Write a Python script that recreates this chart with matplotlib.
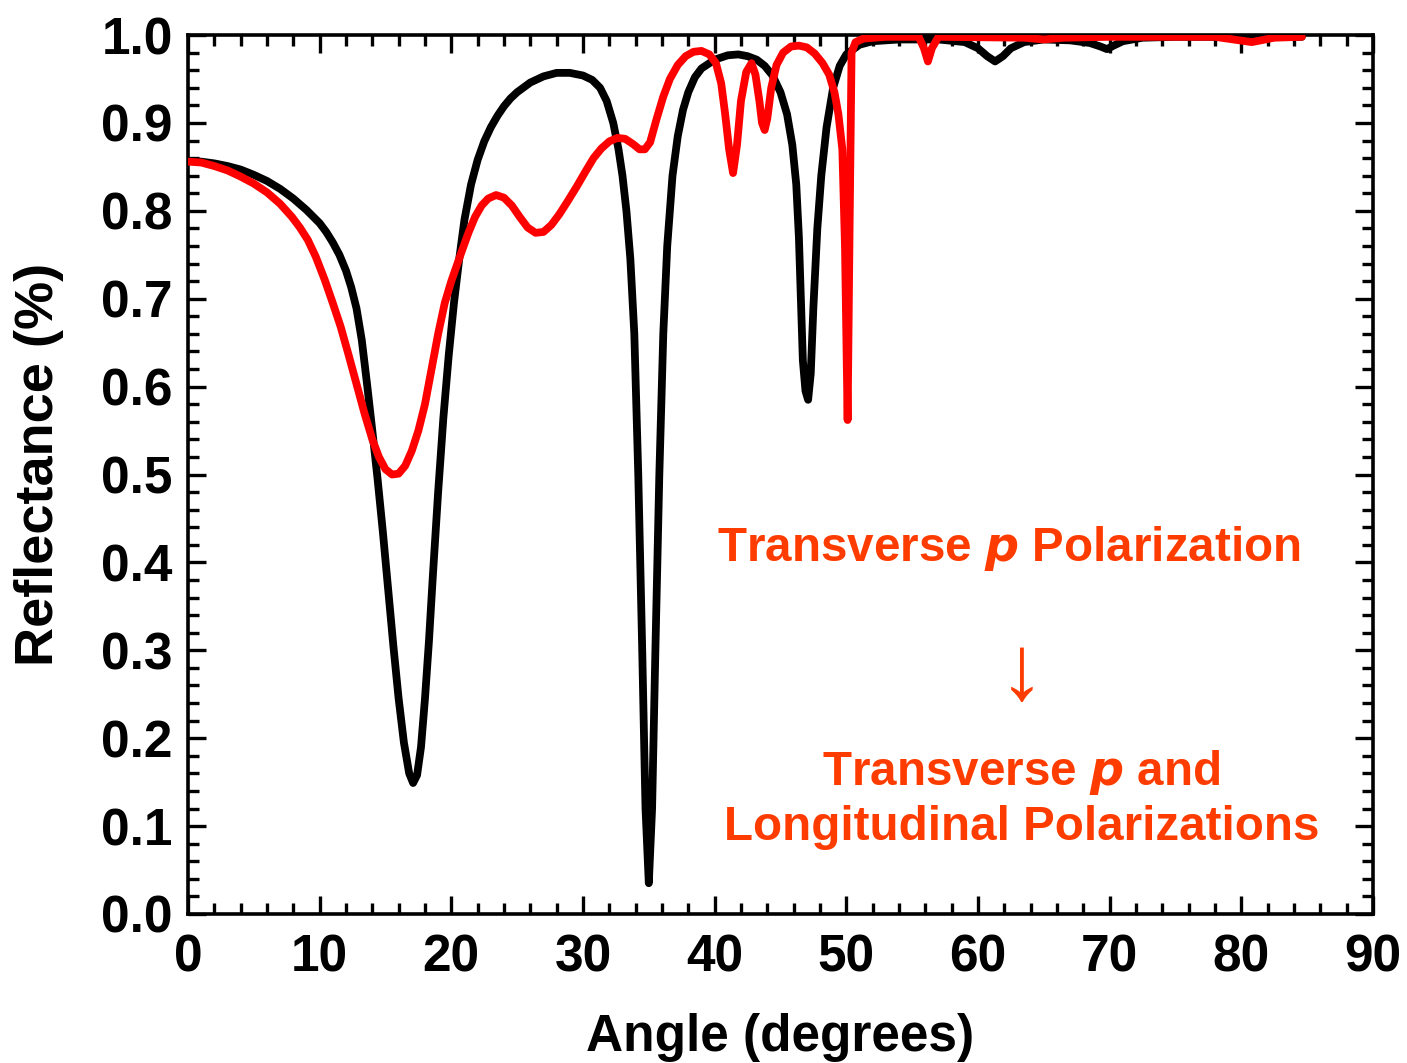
import matplotlib
matplotlib.use("Agg")
import matplotlib.pyplot as plt
from matplotlib.ticker import MultipleLocator

plt.rcParams['font.family'] = ['Liberation Sans', 'DejaVu Sans']
plt.rcParams['font.weight'] = 'bold'

# Reflectance vs. incidence angle, transverse p polarization only
angle_p = [0, 1, 2, 3, 4, 5, 6, 7, 8, 9, 10, 10.5, 11, 11.5, 12, 12.4, 12.8, 13.2,
           13.6, 14.0, 14.4, 14.8, 15.2, 15.6, 16.0, 16.4, 16.8, 17.1, 17.4, 17.7,
           18.0, 18.3, 18.6, 19.0, 19.4, 19.8, 20.2, 20.6, 21.0, 21.5, 22.0, 22.5,
           23.0, 23.5, 24.0, 24.5, 25.0, 26.0, 27.0, 28.0, 29.0, 30.0, 30.7, 31.3,
           31.8, 32.3, 32.7, 33.0, 33.3, 33.6, 33.9, 34.2, 34.5, 34.75, 35.0, 35.25,
           35.5, 35.8, 36.1, 36.4, 36.8, 37.2, 37.6, 38.0, 38.5, 39.0, 40.0, 41.0,
           41.8, 42.5, 43.2, 43.8, 44.4, 45.0, 45.5, 45.9, 46.2, 46.4, 46.55, 46.7,
           46.9, 47.1, 47.3, 47.5, 47.8, 48.1, 48.5, 49.0, 49.5, 50.0, 51.0, 52.0,
           54.0, 57.0, 59.0, 60.0, 60.7, 61.3, 61.9, 62.5, 63.5, 65.0, 67.0, 68.5,
           69.3, 69.8, 70.3, 71.0, 72.5, 75.0, 84.6]
refl_p = [0.857, 0.856, 0.854, 0.851, 0.847, 0.841, 0.834, 0.825, 0.814, 0.801,
          0.786, 0.776, 0.764, 0.750, 0.732, 0.713, 0.689, 0.653, 0.603, 0.550,
          0.495, 0.435, 0.370, 0.305, 0.245, 0.195, 0.160, 0.149, 0.158, 0.190,
          0.245, 0.310, 0.385, 0.480, 0.565, 0.635, 0.695, 0.745, 0.790, 0.830,
          0.858, 0.879, 0.895, 0.908, 0.919, 0.928, 0.935, 0.946, 0.953, 0.957,
          0.957, 0.954, 0.949, 0.940, 0.925, 0.900, 0.870, 0.840, 0.800, 0.745,
          0.660, 0.500, 0.300, 0.120, 0.035, 0.120, 0.300, 0.500, 0.660, 0.760,
          0.840, 0.885, 0.915, 0.935, 0.952, 0.962, 0.972, 0.977, 0.978, 0.976,
          0.972, 0.965, 0.954, 0.935, 0.910, 0.875, 0.830, 0.770, 0.700, 0.630,
          0.595, 0.585, 0.615, 0.690, 0.780, 0.840, 0.895, 0.940, 0.965, 0.978,
          0.989, 0.993, 0.995, 0.995, 0.992, 0.985, 0.976, 0.970, 0.976, 0.985,
          0.992, 0.995, 0.994, 0.991, 0.987, 0.984, 0.988, 0.993, 0.997, 0.998,
          0.998]

# Transverse p plus longitudinal polarizations
angle_pl = [0, 1, 2, 3, 4, 5, 6, 7, 7.9, 8.5, 9.1, 9.7, 10.4, 11.0, 11.6, 12.2,
            12.8, 13.4, 14.0, 14.5, 15.0, 15.5, 16.0, 16.5, 17.0, 17.5, 18.0, 18.5,
            19.0, 19.5, 20.0, 20.7, 21.3, 21.8, 22.3, 22.8, 23.4, 24.0, 24.6, 25.2,
            25.8, 26.4, 27.0, 27.6, 28.2, 28.8, 29.5, 30.2, 30.8, 31.4, 32.0, 32.6,
            33.2, 33.8, 34.3, 34.7, 35.1, 35.6, 36.1, 36.6, 37.2, 37.8, 38.4, 39.0,
            39.6, 40.1, 40.5, 40.8, 41.1, 41.4, 41.7, 42.0, 42.4, 42.8, 43.1, 43.4,
            43.6, 43.8, 44.0, 44.3, 44.7, 45.2, 45.8, 46.4, 47.0, 47.6, 48.2, 48.7,
            49.1, 49.4, 49.7, 49.9, 50.1, 50.25, 50.4, 50.7, 51.3, 53.0, 55.5, 55.9,
            56.2, 56.5, 57.0, 63.5, 65.0, 66.5, 70.0, 78.0, 80.8, 82.5, 84.6]
refl_pl = [0.856, 0.855, 0.851, 0.846, 0.839, 0.831, 0.821, 0.808, 0.793, 0.781,
           0.767, 0.748, 0.721, 0.695, 0.668, 0.636, 0.603, 0.570, 0.540, 0.520,
           0.506, 0.500, 0.501, 0.510, 0.527, 0.550, 0.580, 0.620, 0.660, 0.695,
           0.720, 0.750, 0.775, 0.793, 0.806, 0.814, 0.818, 0.815, 0.806, 0.793,
           0.781, 0.775, 0.776, 0.784, 0.796, 0.810, 0.827, 0.845, 0.860, 0.871,
           0.879, 0.883, 0.882, 0.876, 0.870, 0.870, 0.878, 0.905, 0.930, 0.950,
           0.966, 0.976, 0.981, 0.982, 0.978, 0.968, 0.945, 0.910, 0.870, 0.843,
           0.875, 0.925, 0.958, 0.968, 0.955, 0.925, 0.900, 0.892, 0.905, 0.940,
           0.966, 0.980, 0.987, 0.988, 0.986, 0.979, 0.968, 0.955, 0.935, 0.910,
           0.870, 0.760, 0.562, 0.780, 0.980, 0.992, 0.996, 0.998, 0.998, 0.985,
           0.970, 0.985, 0.998, 0.997, 0.995, 0.997, 0.998, 0.998, 0.992, 0.997,
           0.998]

xticks = [0, 10, 20, 30, 40, 50, 60, 70, 80, 90]
yticks = [0.0, 0.1, 0.2, 0.3, 0.4, 0.5, 0.6, 0.7, 0.8, 0.9, 1.0]

note_color = '#FF3C00'

fig = plt.figure(figsize=(14.07, 10.63), dpi=100)
ax = fig.add_axes([0.1336, 0.1402, 0.8422, 0.8268])

ax.plot(angle_p, refl_p, color='black', lw=5.6, solid_joinstyle='round',
        solid_capstyle='round', zorder=2)
ax.plot(angle_pl, refl_pl, color='#FF0000', lw=5.6, solid_joinstyle='round',
        solid_capstyle='round', zorder=3)

ax.set_xlim(0, 90)
ax.set_ylim(0, 1.0)
ax.set_xticks(xticks)
ax.set_yticks(yticks)
ax.set_xticklabels([str(t) for t in xticks])
ax.set_yticklabels([f"{t:.1f}" for t in yticks])
ax.xaxis.set_minor_locator(MultipleLocator(2))
ax.yaxis.set_minor_locator(MultipleLocator(0.02))

ax.tick_params(which='both', direction='in', top=True, right=True, width=2.4,
               labelsize=37)
ax.tick_params(axis='x', pad=14)
ax.tick_params(axis='y', pad=11)
ax.tick_params(which='major', length=13)
ax.tick_params(which='minor', length=8)
for lab in ax.get_xticklabels() + ax.get_yticklabels():
    lab.set_fontweight('bold')
for sp in ax.spines.values():
    sp.set_linewidth(2.6)

ax.set_xlabel('Angle (degrees)', fontsize=37, fontweight='bold', labelpad=22)
ax.set_ylabel('Reflectance (%)', fontsize=39, fontweight='bold')
ax.yaxis.set_label_coords(-0.105, 0.512)

ax.text(62.35, 0.416, 'Transverse $\\boldsymbol{p}$ Polarization', color=note_color,
        fontsize=34.3, fontweight='bold', ha='center', va='center')
ax.text(63.3, 0.272, '\u2193', color=note_color, fontsize=66,
        fontweight='normal', ha='center', va='center')
ax.text(63.3, 0.161, 'Transverse $\\boldsymbol{p}$ and', color=note_color,
        fontsize=34.3, fontweight='bold', ha='center', va='center')
ax.text(63.3, 0.098, 'Longitudinal Polarizations', color=note_color,
        fontsize=34.3, fontweight='bold', ha='center', va='center')

fig.savefig('out.png', dpi=100)
